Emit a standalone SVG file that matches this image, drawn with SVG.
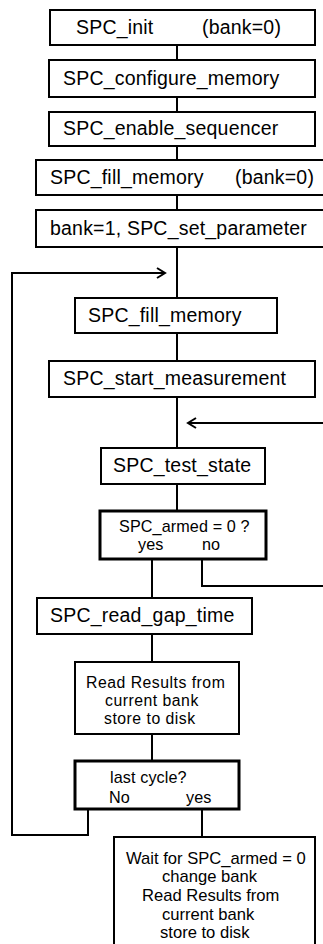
<svg xmlns="http://www.w3.org/2000/svg" width="323" height="944" viewBox="0 0 323 944">
<style>
.box{fill:#fff;stroke:#000;stroke-width:2}
.dec{fill:#fff;stroke:#000;stroke-width:3}
.t{font-family:"Liberation Sans",Arial,sans-serif;font-size:19.5px;letter-spacing:0.2px;fill:#000}
.s{font-family:"Liberation Sans",Arial,sans-serif;font-size:16.2px;letter-spacing:0.1px;fill:#000}
.m{font-family:"Liberation Sans",Arial,sans-serif;font-size:16.6px;fill:#000}
.r{font-family:"Liberation Sans",Arial,sans-serif;font-size:15.8px;letter-spacing:0.5px;fill:#000}
.c{fill:none;stroke:#000;stroke-width:2}
</style>
<rect width="323" height="944" fill="#fff"/>
<g id="connectors">
<path class="c" d="M177 45V60M177 97V112M177 146V160M177 195V210M177 247V298M177 333V361M177 397V448M177 484V511"/>
<path class="c" d="M88 809V835H12V273H165"/>
<path class="c" d="M157 268L165 273L157 278"/>
<path class="c" d="M323 423H188"/>
<path class="c" d="M196 418L188 423L196 428"/>
<path class="c" d="M202 559V586H323"/>
<path class="c" d="M152 559V598M152 634V662M152 734V761M202 809V837"/>
</g>
<g id="n1"><rect class="box" x="50" y="10" width="265" height="35"/><text class="t" x="76" y="34">SPC_init</text><text class="t" x="202" y="34">(bank=0)</text></g>
<g id="n2"><rect class="box" x="49" y="60" width="266" height="37"/><text class="t" x="63" y="85">SPC_configure_memory</text></g>
<g id="n3"><rect class="box" x="49" y="112" width="266" height="34"/><text class="t" x="63" y="135">SPC_enable_sequencer</text></g>
<g id="n4"><rect class="box" x="36" y="160" width="300" height="35"/><text class="t" x="50" y="184">SPC_fill_memory</text><text class="t" x="235" y="184">(bank=0)</text></g>
<g id="n5"><rect class="box" x="36" y="210" width="300" height="37"/><text class="t" x="50" y="235">bank=1, SPC_set_parameter</text></g>
<g id="n6"><rect class="box" x="75" y="298" width="202" height="35"/><text class="t" x="88" y="322">SPC_fill_memory</text></g>
<g id="n7"><rect class="box" x="49" y="361" width="266" height="36"/><text class="t" x="63" y="385">SPC_start_measurement</text></g>
<g id="n8"><rect class="box" x="101" y="448" width="164" height="36"/><text class="t" x="113" y="472">SPC_test_state</text></g>
<g id="n9"><rect class="dec" x="100" y="511" width="166" height="48"/><text class="s" x="119" y="532">SPC_armed = 0 ?</text><text class="s" x="138" y="550">yes</text><text class="s" x="202" y="550">no</text></g>
<g id="n10"><rect class="box" x="37" y="598" width="215" height="36"/><text class="t" x="50" y="622">SPC_read_gap_time</text></g>
<g id="n11"><rect class="box" x="75" y="662" width="164" height="72"/><text class="r" x="86" y="688">Read Results from</text><text class="r" x="105" y="706">current bank</text><text class="r" x="104" y="724">store to disk</text></g>
<g id="n12"><rect class="dec" x="75" y="761" width="164" height="48"/><text class="s" x="110" y="783">last cycle?</text><text class="s" x="109" y="803">No</text><text class="s" x="186" y="803">yes</text></g>
<g id="n13"><rect class="box" x="114" y="837" width="201" height="120"/><text class="m" x="126" y="864">Wait for SPC_armed = 0</text><text class="m" x="162" y="882">change bank</text><text class="m" x="142" y="901">Read Results from</text><text class="m" x="162" y="920">current bank</text><text class="m" x="160" y="938">store to disk</text></g>
</svg>
